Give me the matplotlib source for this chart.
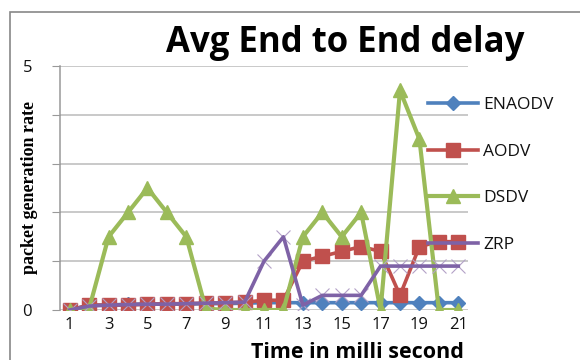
import matplotlib
matplotlib.use("Agg")
import matplotlib.pyplot as plt
from matplotlib.patches import Rectangle

x = list(range(1, 22))
enaodv = [0, 0.1, 0.1, 0.12, 0.12, 0.12, 0.12, 0.13, 0.13, 0.14, 0.15, 0.15,
          0.15, 0.15, 0.15, 0.15, 0.15, 0.15, 0.15, 0.15, 0.15]
aodv = [0, 0.1, 0.1, 0.1, 0.12, 0.13, 0.13, 0.14, 0.15, 0.16, 0.2, 0.2,
        1.0, 1.1, 1.2, 1.3, 1.2, 0.3, 1.3, 1.4, 1.4]
dsdv = [0, 0.03, 1.5, 2.0, 2.5, 2.0, 1.5, 0.03, 0, 0, 0, 0,
        1.5, 2.0, 1.5, 2.0, 0, 4.5, 3.5, 0, 0]
zrp = [0, 0.08, 0.1, 0.11, 0.12, 0.12, 0.13, 0.14, 0.15, 0.16, 1.0, 1.5,
       0.1, 0.3, 0.3, 0.3, 0.9, 0.9, 0.9, 0.9, 0.9]
labels = ["ENAODV", "AODV", "DSDV", "ZRP"]
xticks = [1, 3, 5, 7, 9, 11, 13, 15, 17, 19, 21]
yticks = [0, 1, 2, 3, 4, 5]
yticklabels = ["0", "", "", "", "", "5"]
title = "Avg End to End delay"
xlabel = "Time in milli second"
ylabel = "packet generation rate"

blue, red, green, purple = "#4F81BD", "#C0504D", "#9BBB59", "#7E62A6"
sans = "Open Sans"

fig = plt.figure(figsize=(5.8, 3.6), dpi=100)
fig.patches.append(Rectangle((10/580, -0.1), 1.2, 1 - 12/360 + 0.1,
                             transform=fig.transFigure, fill=False,
                             edgecolor="#888888", lw=1.2))
ax = fig.add_axes([60/580, 50/360, 408/580, 244/360])

ax.plot(x, enaodv, color=blue, lw=2.6, marker="D", ms=7, mec=blue, label=labels[0], zorder=2)
ax.plot(x, aodv, color=red, lw=2.6, marker="s", ms=9.5, mec=red, label=labels[1], zorder=3)
ax.plot(x, dsdv, color=green, lw=3.0, marker="^", ms=10, mec=green, label=labels[2], zorder=4)
ax.plot(x, zrp, color="#B3A2C7", lw=0, marker="x", ms=10, mew=0.8, zorder=5)
ax.plot(x, zrp, color=purple, lw=2.6, label=labels[3], zorder=6)

ax.set_xlim(0.5, 21.5)
ax.set_ylim(0, 5)
ax.set_xticks(xticks)
ax.set_xticklabels([str(t) for t in xticks], fontsize=12, family=sans)
ax.set_yticks(yticks)
ax.set_yticklabels(yticklabels, fontsize=12, family=sans)
ax.tick_params(axis="x", length=0, pad=5)
ax.tick_params(axis="y", length=6, color="#999999", pad=14)
ax.grid(axis="y", color="#BBBBBB", lw=1.1)
ax.set_axisbelow(True)
for s in ["top", "right", "bottom"]:
    ax.spines[s].set_visible(False)
ax.spines["left"].set_color("#999999")
ax.spines["left"].set_linewidth(1.1)
for lbl in ax.get_xticklabels() + ax.get_yticklabels():
    lbl.set_color("#111111")

fig.text(345/580, 1 - 52/360, title, ha="center", va="baseline",
         fontsize=25, fontweight="bold", family=sans)
fig.text(357/580, 1.5/360, xlabel, ha="center", va="baseline",
         fontsize=15.5, fontweight="bold", family=sans)
fig.text(30/580, 0.48, ylabel, ha="center", va="center", rotation=90,
         fontsize=13, fontweight="bold", family="Liberation Serif")

leg = ax.legend(loc="upper left", bbox_to_anchor=(361/408, 1 - 24/244),
                frameon=False, handlelength=2.9,
                labelspacing=1.75, handletextpad=0.3, borderaxespad=0,
                prop={"family": sans, "size": 12.5})
for t in leg.get_texts():
    t.set_color("#111111")

fig.savefig("out.png", dpi=100)
